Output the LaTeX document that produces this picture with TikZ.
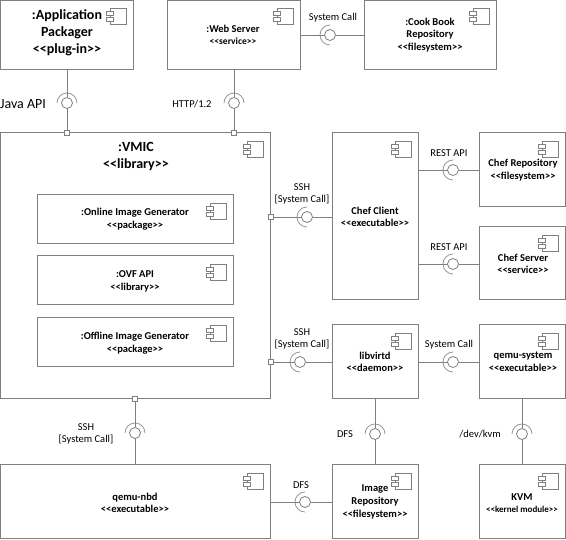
\documentclass[tikz,border=0pt]{standalone}
\usepackage{fontspec}
\setmainfont{Carlito}[Ligatures=TeXOff]
\usetikzlibrary{positioning, calc}
\definecolor{BoxGray}{HTML}{7F7F7F}

\begin{document}
\begin{tikzpicture}[
  x=1pt, y=1pt,
  box/.style={draw=BoxGray, line width=1pt, outer sep=0pt, inner sep=0pt, anchor=north west},
  title/.style={align=center, inner sep=0pt, font=\fontsize{10.5}{12.6}\selectfont\bfseries},
  bigtitle/.style={align=center, inner sep=0pt, font=\fontsize{14}{17}\selectfont\bfseries},
  iface/.style={align=center, inner sep=0pt, font=\fontsize{10.5}{12.6}\selectfont},
  ball/.style={draw=BoxGray, circle, line width=0.8pt, minimum size=11pt, inner sep=0pt, outer sep=0pt},
  port/.style={draw=BoxGray, fill=white, line width=0.8pt, minimum size=5pt, inner sep=0pt, outer sep=0pt},
  wire/.style={draw=BoxGray, line width=0.9pt},
  socket/.style={draw=BoxGray!80, line width=0.8pt},
  compicon/.pic={
    \draw[draw=BoxGray, line width=0.8pt] (-16,0) rectangle (0,-16);
    \draw[draw=BoxGray, line width=0.8pt, fill=white] (-20,-3) rectangle (-13,-7);
    \draw[draw=BoxGray, line width=0.8pt, fill=white] (-20,-9) rectangle (-13,-13);
  },
]
  \useasboundingbox (0,0) rectangle (566,-540);

  % Top row
  \node[box, minimum width=133, minimum height=69] (app) at (0.5,-0.5) {};
  \node[box, minimum width=133, minimum height=69] (web) at (167,-0.5) {};
  \node[box, minimum width=132, minimum height=69] (cook) at (364,-0.5) {};
  \node[bigtitle] (appT) at (67,-33) {:Application\\Packager\\<<plug-in>>};
  \node[title] (webT) at (233,-35) {:Web Server\\{\fontsize{9.5}{12.6}\selectfont <<service>>}};
  \node[title] (cookT) at (430,-35) {:Cook Book\\Repository\\<<filesystem>>};

  % VMIC and its parts
  \node[box, minimum width=270, minimum height=266] (vmic) at (0.5,-133) {};
  \node[bigtitle] (vmicT) at (136,-157) {:VMIC\\<<library>>};
  \node[box, minimum width=196, minimum height=49] (online) at (37,-195) {};
  \node[box, minimum width=196, minimum height=49] (ovf) at (37,-256) {};
  \node[box, minimum width=196, minimum height=49] (offline) at (37,-317.5) {};
  \node[title] (onlineT) at (135,-219.5) {:Online Image Generator\\<<package>>};
  \node[title] (ovfT) at (135,-281.5) {:OVF API\\<<library>>};
  \node[title] (offlineT) at (135,-343) {:Offline Image Generator\\<<package>>};

  % Right side
  \node[box, minimum width=86, minimum height=167] (client) at (332,-133) {};
  \node[box, minimum width=86, minimum height=74] (chefrepo) at (479,-133) {};
  \node[box, minimum width=86, minimum height=73] (chefsrv) at (479,-227) {};
  \node[box, minimum width=86, minimum height=74] (libvirt) at (332,-325) {};
  \node[box, minimum width=86, minimum height=74] (qsys) at (479,-325) {};
  \node[title] (clientT) at (375,-217) {Chef Client\\<<executable>>};
  \node[title] (chefrepoT) at (523,-170) {Chef Repository\\<<filesystem>>};
  \node[title] (chefsrvT) at (523,-264) {Chef Server\\<<service>>};
  \node[title] (libvirtT) at (375,-362) {libvirtd\\<<daemon>>};
  \node[title] (qsysT) at (523,-362) {qemu-system\\<<executable>>};

  % Bottom row
  \node[box, minimum width=270, minimum height=74] (nbd) at (0.5,-465) {};
  \node[box, minimum width=86, minimum height=74] (imgrepo) at (332,-465) {};
  \node[box, minimum width=86, minimum height=74] (kvm) at (479,-465) {};
  \node[title] (nbdT) at (135,-503) {qemu-nbd\\<<executable>>};
  \node[title] (imgrepoT) at (375,-502) {Image\\Repository\\<<filesystem>>};
  \node[title] (kvmT) at (522,-503) {KVM\\{\fontsize{9}{12.6}\selectfont <<kernel module>>}};

  \foreach \b in {app, web, cook, vmic, online, ovf, offline, client, chefrepo, chefsrv, libvirt, qsys, nbd, imgrepo, kvm} {
    \pic at ([shift={(-7,-8)}]\b.north east) {compicon};
  }

  % Ports
  \node[port] (pJava) at (67,-133) {};
  \node[port] (pHttp) at (234,-133) {};
  \node[port] (pClient) at (270.5,-217) {};
  \node[port] (pLibvirt) at (270.5,-362) {};
  \node[port] (pNbd) at (135,-399) {};

  % Provided interfaces
  \node[ball] (bJava) at (67,-103) {};
  \node[ball] (bHttp) at (234,-103) {};
  \node[ball] (bCook) at (330,-35) {};
  \node[ball] (bClient) at (307,-217) {};
  \node[ball] (bRepo) at (453,-170) {};
  \node[ball] (bSrv) at (453,-264) {};
  \node[ball] (bLibvirt) at (300,-362) {};
  \node[ball] (bQsys) at (453,-362) {};
  \node[ball] (bNbd) at (135,-433) {};
  \node[ball] (bDfsV) at (375,-434) {};
  \node[ball] (bKvm) at (522,-434) {};
  \node[ball] (bDfsH) at (305,-502) {};

  \foreach \b in {bJava, bHttp, bNbd, bDfsV, bKvm} {
    \draw[socket] (\b.center) ++(10pt,0pt) arc (0:180:10pt);
  }
  \foreach \b in {bCook, bClient, bRepo, bSrv, bLibvirt, bQsys, bDfsH} {
    \draw[socket] (\b.center) ++(0pt,10pt) arc (90:270:10pt);
  }

  % Connectors
  \draw[wire] (bJava |- app.south) -- (bJava);
  \draw[wire] (bJava) -- (pJava);
  \draw[wire] (bHttp |- web.south) -- (bHttp);
  \draw[wire] (bHttp) -- (pHttp);
  \draw[wire] (web.east |- bCook) -- (bCook);
  \draw[wire] (bCook) -- (cook.west |- bCook);
  \draw[wire] (pClient) -- (bClient);
  \draw[wire] (bClient) -- (client.west |- bClient);
  \draw[wire] (client.east |- bRepo) -- (bRepo);
  \draw[wire] (bRepo) -- (chefrepo.west |- bRepo);
  \draw[wire] (client.east |- bSrv) -- (bSrv);
  \draw[wire] (bSrv) -- (chefsrv.west |- bSrv);
  \draw[wire] (pLibvirt) -- (bLibvirt);
  \draw[wire] (bLibvirt) -- (libvirt.west |- bLibvirt);
  \draw[wire] (libvirt.east |- bQsys) -- (bQsys);
  \draw[wire] (bQsys) -- (qsys.west |- bQsys);
  \draw[wire] (pNbd) -- (bNbd);
  \draw[wire] (bNbd) -- (bNbd |- nbd.north);
  \draw[wire] (bDfsV |- libvirt.south) -- (bDfsV);
  \draw[wire] (bDfsV) -- (bDfsV |- imgrepo.north);
  \draw[wire] (bKvm |- qsys.south) -- (bKvm);
  \draw[wire] (bKvm) -- (bKvm |- kvm.north);
  \draw[wire] (nbd.east |- bDfsH) -- (bDfsH);
  \draw[wire] (bDfsH) -- (imgrepo.west |- bDfsH);

  % Interface labels
  \node[iface, font=\fontsize{14}{17}\selectfont] (lJava) at (23,-104) {Java API};
  \node[iface] (lHttp) at (192,-104) {HTTP/1.2};
  \node[iface] (lCook) at (333,-18) {System Call};
  \node[iface] (lClient) at (302,-194) {SSH\\{[System Call]}};
  \node[iface] (lRepo) at (449,-153) {REST API};
  \node[iface] (lSrv) at (449,-247) {REST API};
  \node[iface] (lLibvirt) at (302,-339) {SSH\\{[System Call]}};
  \node[iface] (lQsys) at (449,-345) {System Call};
  \node[iface] (lNbd) at (86,-434) {SSH\\{[System Call]}};
  \node[iface] (lDfsV) at (345,-434) {DFS};
  \node[iface] (lKvm) at (480,-434) {/dev/kvm};
  \node[iface] (lDfsH) at (301,-485) {DFS};
\end{tikzpicture}
\end{document}
